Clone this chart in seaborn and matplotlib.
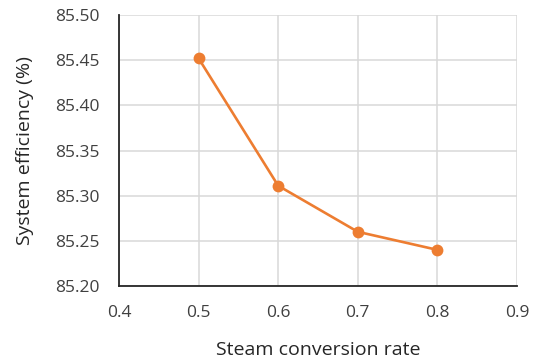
import matplotlib
matplotlib.use("Agg")
import matplotlib.pyplot as plt
import seaborn as sns
import pandas as pd

steam_conversion = [0.5, 0.6, 0.7, 0.8]
system_efficiency = [85.452, 85.311, 85.260, 85.240]
x_ticks = [0.4, 0.5, 0.6, 0.7, 0.8, 0.9]
y_ticks = [85.20, 85.25, 85.30, 85.35, 85.40, 85.45, 85.50]

sns.set_theme(style="white")
plt.rcParams['font.family'] = ['Open Sans', 'DejaVu Sans']

df = pd.DataFrame({"x": steam_conversion, "y": system_efficiency})

fig = plt.figure(figsize=(5.39, 3.62), dpi=100)
ax = fig.add_axes([119/539, 76/362, (517-119)/539, (286-15)/362])

sns.lineplot(data=df, x="x", y="y", ax=ax, color="#ED7D31", linewidth=1.9,
             marker="o", markersize=8.5, markeredgewidth=0, zorder=3)

ax.set_xlim(0.4, 0.9)
ax.set_ylim(85.20, 85.50)
ax.set_xticks(x_ticks)
ax.set_yticks(y_ticks)
ax.set_xticklabels([f"{v:.1f}" for v in x_ticks])
ax.set_yticklabels([f"{v:.2f}" for v in y_ticks])
ax.grid(True, color="#d9d9d9", linewidth=1.1)
ax.set_axisbelow(True)
for s in ["top", "right"]:
    ax.spines[s].set_visible(False)
for s in ["left", "bottom"]:
    ax.spines[s].set_color("#262626")
    ax.spines[s].set_linewidth(1.3)
ax.tick_params(axis="both", length=0, labelsize=12.5, colors="#404040")
ax.tick_params(axis="y", pad=14)
ax.tick_params(axis="x", pad=14)
ax.set_xlabel("Steam conversion rate", fontsize=14, color="#262626", va="center")
ax.set_ylabel("System efficiency (%)", fontsize=14, color="#262626", va="center")
ax.xaxis.set_label_coords(0.5, (286-350)/271)
ax.yaxis.set_label_coords((25-119)/398, 0.5)

fig.savefig("out.png", dpi=100)
